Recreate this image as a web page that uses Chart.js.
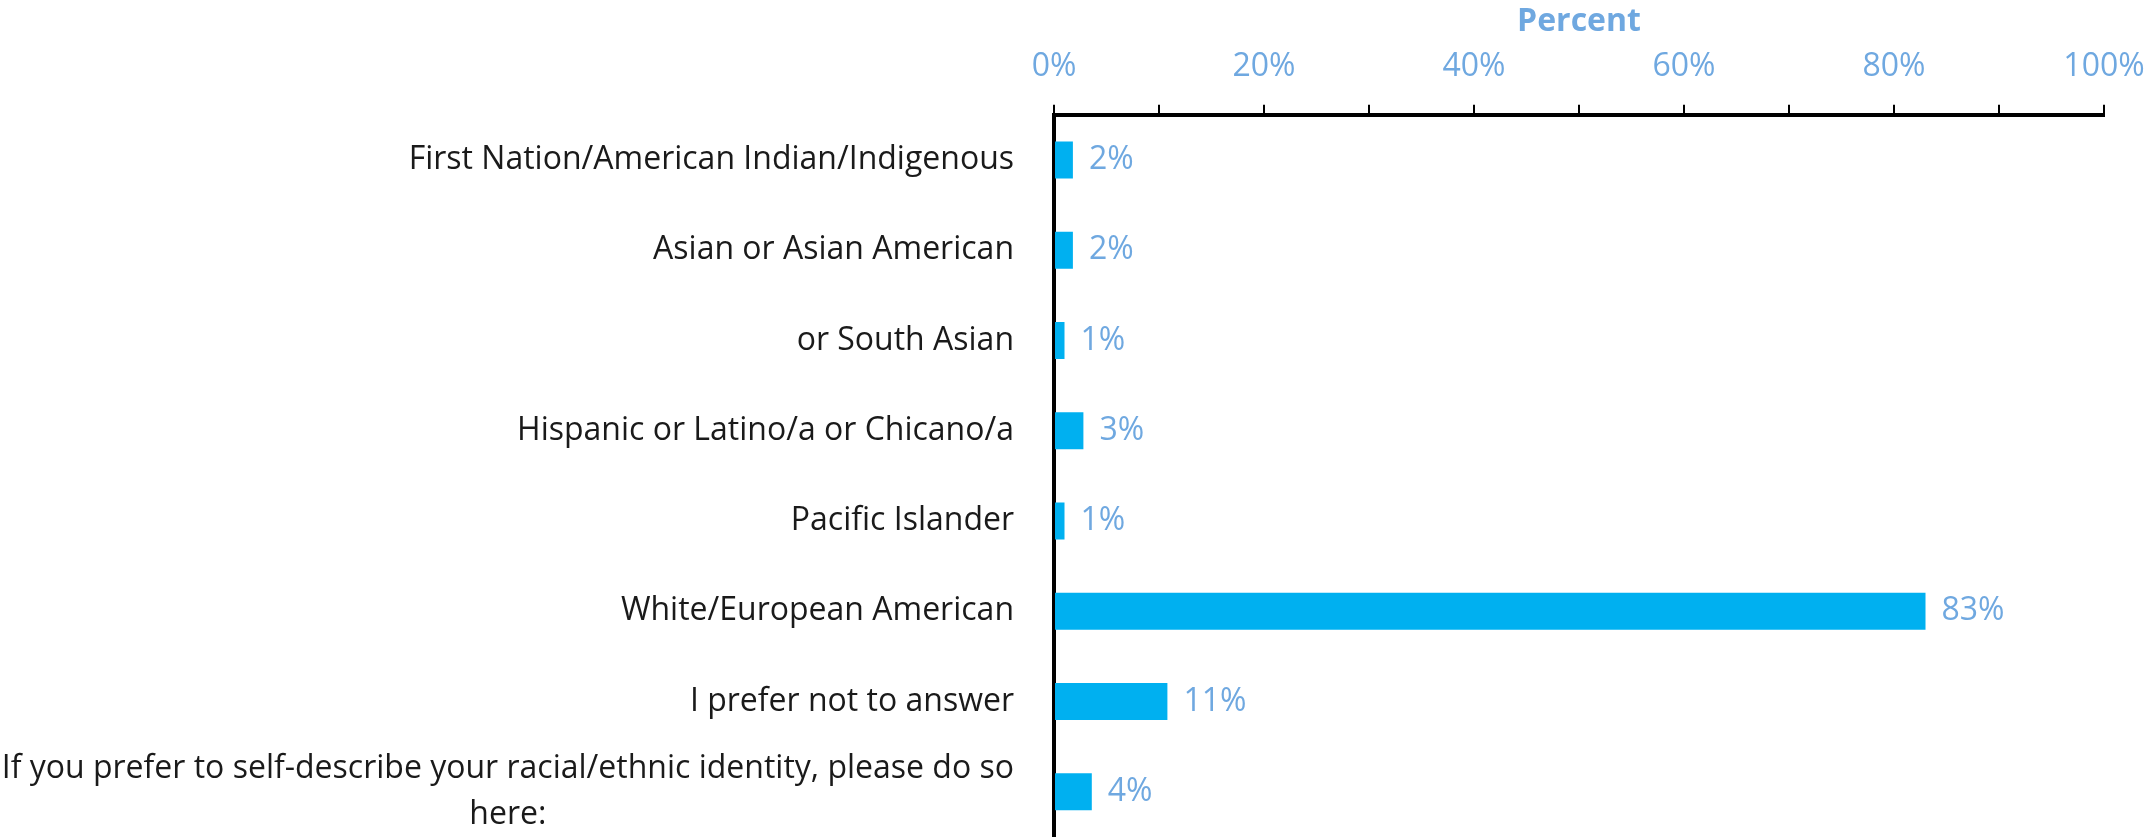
<!DOCTYPE html>
<html>
<head>
<meta charset="utf-8">
<script src="https://cdn.jsdelivr.net/npm/chart.js@4/dist/chart.umd.min.js"></script>
<style>
  body { margin: 0; background: #fff; }
  #wrap { width: 2144px; height: 837px; }
</style>
</head>
<body>
<div id="wrap"><canvas id="myChart" width="2144" height="837"></canvas></div>
<script>
// data
const categories = [
  'First Nation/American Indian/Indigenous',
  'Asian or Asian American',
  'or South Asian',
  'Hispanic or Latino/a or Chicano/a',
  'Pacific Islander',
  'White/European American',
  'I prefer not to answer',
  ['If you prefer to self-describe your racial/ethnic identity, please do so', 'here:']
];
const percents = [1.8, 1.8, 1.0, 2.8, 1.0, 83.0, 10.8, 3.6];
const tickLabels = ['0%', '20%', '40%', '60%', '80%', '100%'];

const BLUE_TEXT = '#6fa8e0';
const FONT = '"Open Sans", "Noto Sans", sans-serif';

// category labels drawn by hand so the wrapped one can be centred like the original
const catLabels = {
  id: 'catLabels',
  afterDraw(chart) {
    const ctx = chart.ctx;
    const y = chart.scales.y;
    ctx.save();
    ctx.font = '32px ' + FONT;
    ctx.fillStyle = '#1a1a1a';
    ctx.textBaseline = 'middle';
    ctx.textAlign = 'center';
    const right = chart.chartArea.left - 40;
    categories.forEach((lab, i) => {
      const lines = Array.isArray(lab) ? lab : [lab];
      const w = Math.max(...lines.map(l => ctx.measureText(l).width));
      const cy = y.getPixelForValue(i);
      const lh = 46;
      lines.forEach((l, j) => {
        ctx.fillText(l, right - w / 2, cy + (j - (lines.length - 1) / 2) * lh);
      });
    });
    ctx.restore();
  }
};

const valueLabels = {
  id: 'valueLabels',
  afterDatasetsDraw(chart) {
    const ctx = chart.ctx;
    const meta = chart.getDatasetMeta(0);
    ctx.save();
    ctx.font = '32px ' + FONT;
    ctx.fillStyle = BLUE_TEXT;
    ctx.textBaseline = 'middle';
    ctx.textAlign = 'left';
    meta.data.forEach((bar, i) => {
      ctx.fillText(Math.round(percents[i]) + '%', bar.x + 16, bar.y);
    });
    ctx.restore();
  }
};

let chart = new Chart(document.getElementById('myChart').getContext('2d'), {
  type: 'bar',
  data: {
    labels: categories,
    datasets: [{
      label: 'Percent',
      data: percents,
      backgroundColor: '#00b0f0',
      borderWidth: 0,
      barPercentage: 0.41,
      categoryPercentage: 1
    }]
  },
  options: {
    indexAxis: 'y',
    responsive: false,
    animation: false,
    layout: { padding: { left: 0, right: 0, top: 0, bottom: -4 } },
    plugins: { legend: { display: false }, tooltip: { enabled: false } },
    scales: {
      x: {
        position: 'top',
        min: 0,
        max: 100,
        afterFit(scale) { scale.paddingRight = 40; scale.paddingLeft = 0; },
        title: {
          display: true,
          text: 'Percent',
          color: BLUE_TEXT,
          font: { family: FONT, size: 32, weight: 'bold' },
          padding: { top: 3, bottom: -13 }
        },
        ticks: {
          stepSize: 10,
          color: BLUE_TEXT,
          font: { family: FONT, size: 32 },
          padding: 19,
          maxRotation: 0,
          autoSkip: false,
          callback: (v) => (v % 20 === 0 ? tickLabels[v / 20] : '')
        },
        grid: {
          drawOnChartArea: false,
          drawTicks: true,
          tickLength: 10,
          color: '#000',
          lineWidth: 2
        },
        border: { display: true, color: '#000', width: 4 }
      },
      y: {
        afterFit(scale) { scale.width = 1054; },
        ticks: { display: false },
        grid: { display: false, drawTicks: false },
        border: { display: true, color: '#000', width: 4 }
      }
    }
  },
  plugins: [catLabels, valueLabels]
});
</script>
</body>
</html>
